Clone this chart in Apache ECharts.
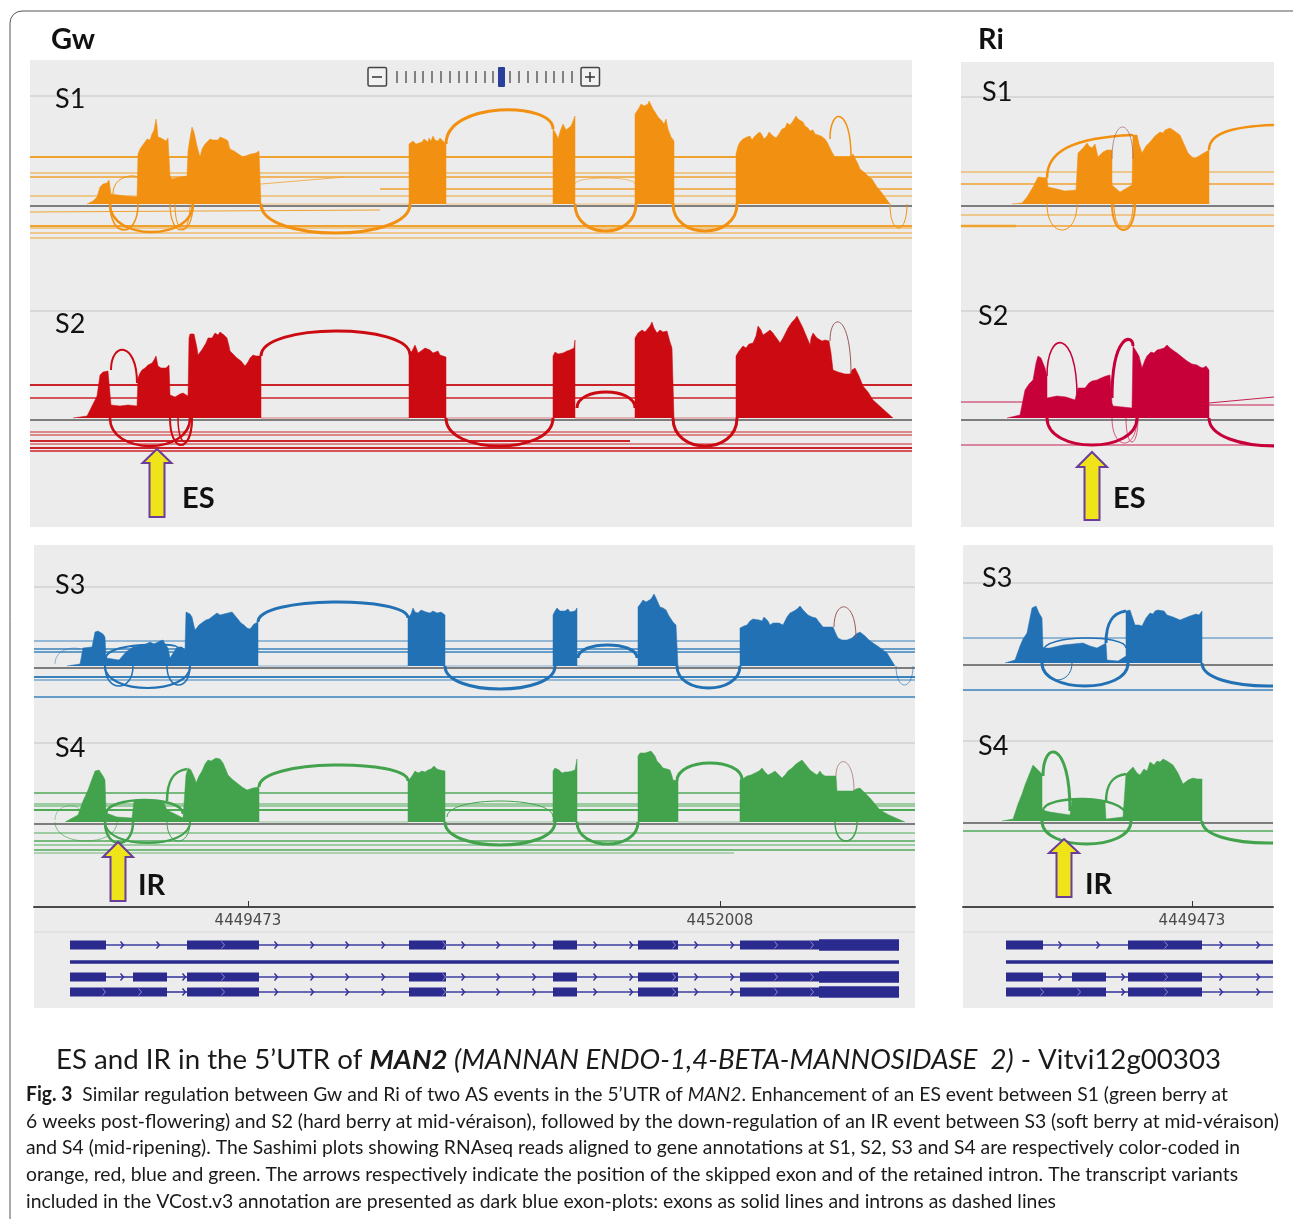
<!DOCTYPE html>
<html><head><meta charset="utf-8">
<style>html,body{margin:0;padding:0;background:#fff}#c{width:1293px;height:1219px}</style>
<script src="https://cdn.jsdelivr.net/npm/echarts@6/dist/echarts.min.js"></script>
</head><body><div id="c"></div>
<script>
// ---------- values: [locus position, read depth] ----------
const gwS1Cov=[[57,0],[63,3],[67,7],[70,17],[73,20],[77,21],[79,24],[80,23],[81,10],[95,8],[107,7],[108,50],[110,55],[112,58],[115,62],[117,65],[120,64],[122,70],[124,74],[126,85],[127,78],[128,67],[131,66],[133,64],[136,63],[138,66],[139,67],[140,28],[142,25],[150,27],[157,28],[158,53],[160,66],[162,77],[164,72],[165,70],[167,58],[170,47],[172,55],[173,57],[175,60],[177,62],[180,65],[183,64],[185,66],[188,64],[190,67],[192,68],[195,65],[198,63],[199,58],[200,55],[204,53],[206,52],[210,49],[213,47],[218,49],[221,50],[223,52],[226,51],[229,53],[231,53],[231,0],
[379,0],[379,60],[381,62],[383,63],[386,60],[388,61],[392,62],[394,65],[396,64],[398,62],[399,66],[401,63],[403,68],[405,64],[406,66],[408,63],[410,66],[413,63],[416,60],[416,0],
[523,0],[523,75],[525,72],[527,68],[528,65],[530,72],[531,75],[533,80],[534,78],[536,74],[538,75],[541,78],[543,76],[545,88],[545,0],
[605,0],[605,90],[607,93],[609,96],[611,100],[612,102],[614,98],[616,97],[618,100],[619,103],[621,99],[623,95],[625,92],[628,87],[632,83],[634,80],[636,85],[638,75],[641,67],[644,63],[644,0],
[706,0],[706,50],[708,58],[710,62],[713,65],[715,63],[717,67],[720,68],[722,64],[724,67],[727,70],[730,72],[732,69],[734,65],[737,68],[739,72],[741,71],[743,68],[746,66],[749,70],[752,75],[755,76],[757,81],[760,79],[763,83],[766,88],[768,85],[770,86],[773,82],[775,78],[778,76],[780,73],[783,74],[785,70],[787,72],[791,68],[795,65],[797,62],[800,56],[803,50],[805,47],[820,47],[823,50],[825,48],[828,40],[830,35],[835,31],[839,27],[842,25],[845,20],[847,17],[852,11],[860,0]];
const gwS2Cov=[[43,0],[57,2],[62,12],[67,22],[70,43],[73,46],[75,47],[78,47],[80,48],[81,13],[90,12],[98,13],[107,12],[108,40],[110,45],[112,48],[115,50],[118,53],[122,55],[124,58],[126,62],[127,57],[128,52],[131,50],[133,48],[136,50],[139,53],[140,23],[145,21],[150,24],[153,25],[158,22],[159,80],[160,84],[162,86],[164,84],[165,82],[167,70],[168,63],[171,67],[173,70],[176,75],[178,80],[180,82],[182,80],[185,85],[187,84],[188,83],[190,86],[192,86],[194,83],[197,80],[199,72],[200,67],[204,63],[207,60],[211,57],[215,52],[218,56],[220,60],[223,63],[226,62],[231,62],[231,0],
[379,0],[379,63],[382,67],[385,73],[387,68],[388,65],[391,67],[393,68],[395,70],[397,72],[400,68],[403,65],[405,67],[408,67],[410,63],[412,62],[416,61],[416,0],
[523,0],[523,62],[525,66],[526,68],[528,64],[530,63],[533,65],[537,67],[540,68],[542,66],[544,70],[545,78],[545,0],
[605,0],[605,80],[608,85],[612,88],[615,86],[617,87],[620,92],[622,96],[624,90],[627,85],[630,88],[633,86],[637,87],[640,76],[642,70],[644,68],[644,0],
[706,0],[706,62],[709,67],[713,72],[716,70],[719,74],[723,75],[726,82],[728,92],[731,88],[733,83],[736,85],[738,84],[740,88],[743,85],[745,82],[748,78],[750,75],[753,80],[755,84],[758,90],[762,96],[765,99],[767,102],[770,96],[773,90],[775,85],[778,78],[780,73],[781,80],[783,85],[787,80],[792,77],[795,78],[799,77],[801,65],[803,48],[808,46],[815,44],[820,44],[822,48],[825,50],[829,42],[833,32],[838,26],[843,18],[853,9],[863,0]];
const gwS3Cov=[[33,0],[46,2],[49,18],[58,19],[61,34],[64,35],[66,34],[69,32],[71,29],[72,8],[85,6],[92,14],[99,19],[104,20],[108,21],[112,22],[116,24],[120,22],[122,23],[126,25],[129,26],[131,22],[134,18],[136,8],[143,19],[148,19],[151,16],[152,54],[154,54],[156,52],[158,49],[160,40],[161,36],[165,41],[169,44],[172,46],[175,47],[179,50],[183,53],[186,51],[188,53],[190,52],[194,53],[198,54],[200,52],[203,48],[207,43],[210,41],[213,38],[216,37],[220,42],[224,44],[224,0],
[374,0],[374,48],[377,52],[379,58],[381,54],[384,53],[387,56],[389,57],[392,54],[396,53],[399,55],[403,53],[407,54],[411,51],[411,0],
[519,0],[519,51],[521,55],[523,58],[526,55],[528,53],[531,55],[534,57],[536,54],[538,53],[541,55],[543,58],[543,0],
[604,0],[604,59],[607,63],[609,66],[612,64],[614,65],[617,67],[620,72],[622,68],[626,59],[629,58],[632,56],[635,50],[639,44],[642,41],[644,39],[644,0],
[706,0],[706,38],[710,40],[713,41],[716,45],[719,47],[721,49],[725,46],[728,45],[730,49],[731,51],[734,45],[736,41],[739,43],[741,45],[745,43],[749,41],[753,49],[756,53],[760,55],[763,57],[766,60],[770,55],[774,51],[778,49],[782,48],[785,44],[789,39],[799,39],[802,32],[804,28],[808,26],[813,26],[818,28],[822,32],[826,34],[831,30],[835,26],[839,23],[845,19],[853,13],[861,0]];
const gwS4Cov=[[31,0],[44,7],[49,21],[54,32],[58,43],[61,51],[65,52],[66,51],[69,46],[71,42],[72,9],[83,5],[98,4],[100,21],[108,21],[116,22],[122,22],[129,21],[133,12],[149,4],[152,47],[154,54],[157,52],[159,51],[161,43],[162,39],[165,46],[168,51],[171,58],[174,62],[177,61],[179,63],[182,64],[184,66],[186,63],[189,59],[192,52],[194,47],[198,43],[203,39],[208,35],[213,32],[219,34],[225,35],[225,0],
[374,0],[374,41],[378,46],[381,51],[384,49],[388,51],[391,50],[394,52],[397,53],[400,56],[403,53],[406,52],[411,51],[411,0],
[519,0],[519,51],[521,54],[523,56],[525,52],[528,49],[531,50],[534,50],[538,51],[541,52],[543,63],[543,0],
[604,0],[604,66],[606,69],[608,71],[611,69],[614,70],[617,71],[619,73],[621,66],[623,61],[626,58],[629,54],[633,53],[636,52],[638,46],[639,42],[644,41],[644,0],
[706,0],[706,42],[710,44],[713,46],[717,47],[721,49],[725,51],[728,54],[731,50],[734,47],[738,49],[741,51],[745,47],[748,44],[751,47],[754,51],[758,54],[762,58],[765,60],[768,62],[772,57],[776,52],[780,49],[783,47],[786,51],[788,48],[791,46],[802,46],[803,31],[819,31],[822,33],[826,34],[831,29],[836,24],[841,18],[846,12],[855,7],[871,0]];
const riS1Cov=[[51,0],[61,1],[66,7],[72,17],[77,27],[86,26],[87,17],[96,15],[104,13],[115,14],[117,51],[122,56],[126,61],[128,58],[131,56],[134,60],[136,62],[137,47],[142,52],[146,54],[151,54],[151,19],[159,12],[171,19],[172,69],[176,69],[178,60],[181,51],[185,58],[189,62],[194,68],[199,72],[202,71],[204,74],[206,76],[209,76],[212,74],[214,73],[219,69],[223,60],[227,51],[231,47],[234,46],[238,48],[241,50],[248,54],[248,0]];
const riS2Cov=[[46,0],[59,3],[64,28],[68,34],[72,38],[75,55],[77,62],[80,60],[82,58],[84,50],[86,42],[86,20],[96,22],[105,21],[114,18],[117,30],[124,30],[128,35],[131,37],[136,38],[140,40],[145,42],[149,43],[151,15],[152,12],[171,10],[172,72],[174,73],[178,62],[181,50],[184,58],[186,62],[190,66],[193,65],[196,68],[200,69],[203,70],[206,73],[209,70],[213,67],[216,65],[221,61],[226,57],[231,54],[236,53],[239,51],[242,50],[245,52],[248,48],[248,0]];
const riS3Cov=[[42,0],[52,3],[57,17],[60,24],[64,30],[67,45],[69,55],[71,56],[73,57],[76,50],[79,45],[80,15],[87,15],[100,18],[110,19],[120,20],[127,17],[134,15],[143,20],[144,3],[155,2],[163,7],[163,52],[167,53],[170,44],[172,38],[176,38],[179,37],[183,45],[187,50],[190,49],[192,52],[195,53],[197,55],[201,52],[204,48],[210,46],[217,43],[222,45],[227,47],[233,49],[236,48],[239,52],[239,0]];
const riS4Cov=[[39,0],[50,2],[55,17],[59,27],[62,36],[66,46],[70,56],[73,53],[75,55],[79,47],[79,11],[87,9],[107,6],[109,21],[118,21],[127,22],[135,21],[142,19],[143,2],[160,4],[163,47],[166,50],[170,54],[174,48],[177,46],[181,52],[184,50],[187,59],[191,56],[194,60],[197,59],[200,62],[204,60],[207,58],[210,56],[215,48],[220,37],[225,41],[230,43],[234,42],[239,42],[239,0]];

// junction arcs: [from, depth at from, to, depth at to, apex, junction reads]
const gwS1Arcs=[[416,60,523,75,94,3],[800,65,821,47,87,1.5],[83,10,108,26,27,1],[545,20,605,20,26,.7],[80,0,163,0,-28,2.5],[80,0,108,0,-26,1.5],[140,0,163,0,-26,1.2],[145,0,160,0,-25,1],[231,0,380,0,-29,3],[545,0,606,0,-27,3],[643,0,707,0,-27,3],[860,0,877,0,-24,1]];
const gwS2Arcs=[[231,62,380,63,87,3],[547,10,605,10,26,3],[81,48,107,35,68,2],[800,77,821,44,95,1],[80,0,160,0,-28,2.5],[140,0,162,0,-27,2],[148,0,162,0,-24,1.5],[416,0,523,0,-28,3],[643,0,707,0,-28,3]];
const gwS3Arcs=[[224,44,374,48,64,3],[544,8,603,8,21,3],[800,39,822,28,59,1],[21,2,46,16,17,.6],[72,8,143,19,21,2],[71,0,156,0,-22,2],[71,0,99,0,-20,1.5],[133,0,156,0,-19,1.5],[411,0,521,0,-23,3],[643,0,706,0,-22,3],[862,0,879,0,-19,.8]];
const gwS4Arcs=[[225,35,374,41,57,3],[643,41,708,42,59,3],[133,21,153,53,53,2.5],[72,8,149,8,22,2.5],[21,2,46,10,16,.6],[21,0,83,0,-19,.8],[413,5,519,5,21,1],[802,46,820,31,60,.8],[411,0,521,0,-23,3],[543,0,604,0,-22,3],[801,0,823,0,-19,1.5],[71,0,99,0,-21,2.5],[71,0,156,0,-21,2],[133,0,156,0,-19,1]];
const riS1Arcs=[[86,26,172,69,69,2.5],[248,54,313,79,79,2.5],[151,45,172,45,77,.8],[86,0,116,0,-26,1],[151,0,174,0,-26,2],[153,0,172,0,-24,1]];
const riS2Arcs=[[86,42,116,22,75,1.5],[151,20,172,72,75,3],[248,0,380,0,-28,3],[86,0,176,0,-27,3],[151,0,176,0,-25,.8],[165,0,177,0,-24,.8]];
const riS3Arcs=[[143,20,163,52,52,3],[80,12,163,15,25,1.5],[79,0,165,0,-23,3],[79,0,109,0,-17,1],[239,0,370,0,-23,3]];
const riS4Arcs=[[80,45,107,10,68,3],[80,10,163,5,22,2.5],[143,19,163,47,47,2.5],[79,0,168,0,-23,3],[239,0,370,0,-22,3]];

// flat coverage links: [from, to, depth at from, depth at to, reads]
const gwS1Links=[[0,882,47,47,1.8],[0,882,31,31,1.2],[0,882,27,27,1.3],[350,882,15,15,1.5],[0,882,8,8,1.2],[231,315,20,27,.8],[0,350,-8,-6,1.2],[0,882,-22,-22,1.8],[0,882,-24,-24,1.2],[0,882,-29,-29,1.2],[0,882,-34,-34,1.2]];
const gwS2Links=[[0,882,33,33,2.2],[0,882,20,20,1.4],[0,882,-14,-14,1.2],[0,882,-17,-17,1.2],[0,600,-23,-23,1.8],[0,882,-26,-26,1],[0,882,-30,-30,1.8],[0,882,-33,-33,1.4]];
const gwS3Links=[[0,882,25,25,1.2],[0,882,17,17,1.6],[0,882,14,14,1.4],[0,882,-11,-11,1.8],[0,882,-14,-14,1.2],[0,882,-31,-31,1.3]];
const gwS4Links=[[0,882,29,29,1.5],[0,882,18,18,1.2],[0,882,16,16,1.2],[0,882,12,12,1.8],[0,882,-11,-11,1],[0,882,-19,-19,1.4],[0,882,-23,-23,1.2],[0,882,-28,-28,1.5],[0,700,-31,-31,.8]];
const riS1Links=[[0,313,32,32,1.2],[0,313,20,20,1.4],[0,313,-11,-11,1.2],[0,313,-22,-22,1.4],[0,55,-22,-22,2.5]];
const riS2Links=[[0,64,16,16,1.2],[248,313,13,13,1.2],[248,313,15,21,1.2],[0,313,-27,-27,1.2]];
const riS3Links=[[0,310,25,25,1.2],[0,310,-27,-27,1.4]];
const riS4Links=[[0,310,-10,-10,1.4]];

// transcript models
const gwIsoforms=[[[36,72],[153,225],[375,412],[519,543],[604,644],[706,865]],[[36,865]],[[36,72],[99,133],[153,225],[375,412],[519,543],[604,644],[706,865]],[[36,133],[153,225],[375,412],[519,543],[604,644],[706,865]]];
const gwIntronMarks=[[0,88],[0,124],[2,88],[2,150],[3,150]].concat([0,2,3].flatMap(r=>[242,278,313,349,429,464,500,561,597,662,698].map(m=>[r,m])));
const gwExonMarks=[[3,70],[3,106]].concat([0,2,3].flatMap(r=>[189,410,640,742,778].map(m=>[r,m])));
const gwUtrSpans=[[0,785,865],[2,785,865],[3,785,865]];
const riIsoforms=[[[43,80],[165,239]],[[43,310]],[[43,80],[109,143],[165,239]],[[43,143],[165,239]]];
const riIntronMarks=[[0,97],[0,135],[2,97],[2,160],[3,160]].concat([0,2,3].flatMap(r=>[258,295].map(m=>[r,m])));
const riExonMarks=[[3,79],[3,116],[0,203],[2,203],[3,203]];
const riUtrSpans=[];
const isoformRows=[38,55,70,85];
const axisPositions={gw:[214,686],ri:[229]};
const axisLabels={gw:['4449473','4452008'],ri:['4449473']};

// ---------- layout ----------
const tracks=[
 {cov:gwS1Cov,arcs:gwS1Arcs,links:gwS1Links,c:'#f29111',lc:'#f0a22e',r:[30,60,882,240],base:204,top:108},
 {cov:gwS2Cov,arcs:gwS2Arcs,links:gwS2Links,c:'#cc0a11',lc:'#cc2229',r:[30,300,882,227],base:418,top:107},
 {cov:gwS3Cov,arcs:gwS3Arcs,links:gwS3Links,c:'#2271b5',lc:'#3a82bc',r:[34,545,881,160],base:666,top:79},
 {cov:gwS4Cov,arcs:gwS4Arcs,links:gwS4Links,c:'#42a34c',lc:'#4faa58',r:[34,705,881,202],base:822,top:79},
 {cov:riS1Cov,arcs:riS1Arcs,links:riS1Links,c:'#f29111',lc:'#f0a22e',r:[961,62,313,238],base:204,top:107},
 {cov:riS2Cov,arcs:riS2Arcs,links:riS2Links,c:'#c8003a',lc:'#c4204f',r:[961,300,313,227],base:418,top:107},
 {cov:riS3Cov,arcs:riS3Arcs,links:riS3Links,c:'#2271b5',lc:'#3a82bc',r:[963,545,310,155],base:663,top:80},
 {cov:riS4Cov,arcs:riS4Arcs,links:riS4Links,c:'#42a34c',lc:'#4faa58',r:[963,700,310,207],base:821,top:80}
];
const grid=[],xAxis=[],yAxis=[],series=[];
const GREY='#ececec';
tracks.forEach((t,i)=>{
 const [x,y,w,h]=t.r;
 grid.push({left:x,top:y,width:w,height:h,show:true,backgroundColor:GREY,borderWidth:0});
 xAxis.push({type:'value',gridIndex:i,min:0,max:w,show:false});
 yAxis.push({type:'value',gridIndex:i,min:t.base-y-h,max:t.base-y,show:false});
 series.push({type:'custom',xAxisIndex:i,yAxisIndex:i,clip:true,silent:true,z:1,data:[[0,w,t.top],[0,w,-2]],
  renderItem:(p,api)=>{const a=api.coord([api.value(0),api.value(2)]),b=api.coord([api.value(1),api.value(2)]);
   const isBase=api.value(2)<0;
   return {type:'line',shape:{x1:a[0],y1:a[1],x2:b[0],y2:b[1]},style:{stroke:isBase?'#7d7d7d':'#d2d2d2',lineWidth:isBase?1.8:1.5}};}});
 series.push({type:'custom',xAxisIndex:i,yAxisIndex:i,clip:true,silent:true,z:1,data:t.links,
  renderItem:(p,api)=>{const a=api.coord([api.value(0),api.value(2)]),b=api.coord([api.value(1),api.value(3)]);
   return {type:'line',shape:{x1:a[0],y1:a[1],x2:b[0],y2:b[1]},style:{stroke:t.lc,lineWidth:api.value(4)}};}});
 series.push({type:'line',xAxisIndex:i,yAxisIndex:i,data:t.cov,showSymbol:false,silent:true,z:2,
  lineStyle:{width:.5,color:t.c},areaStyle:{color:t.c,opacity:1},itemStyle:{color:t.c}});
 series.push({type:'custom',xAxisIndex:i,yAxisIndex:i,clip:true,silent:true,z:3,data:t.arcs,
  renderItem:(p,api)=>{
   const x1=api.value(0),y1=api.value(1),x2=api.value(2),y2=api.value(3),ap=api.value(4),rd=api.value(5);
   const quarter=y2>y1&&ap<=y2;   // a junction climbing onto the next exon's shoulder
   const cp=(ap-(y1+y2)/8)/.75;
   const a=api.coord([x1,y1]),b=api.coord([x2,y2]);
   const c1=quarter?api.coord([x1,y1+(y2-y1)*.62]):api.coord([x1,cp]);
   const c2=quarter?api.coord([x1+(x2-x1)*.3,y2-(y2-y1)*.06]):api.coord([x2,cp]);
   return {type:'bezierCurve',shape:{x1:a[0],y1:a[1],x2:b[0],y2:b[1],cpx1:c1[0],cpy1:c1[1],cpx2:c2[0],cpy2:c2[1]},
    style:{fill:'none',stroke:rd<1.2&&ap>50?'#9a5a5a':t.c,lineWidth:rd,opacity:rd<1?.8:1}};}});
});
// transcript tracks
function geneGrid(idx,r,isoforms,intronMarks,exonMarks,utr,pos,labels){
 const [x,y,w,h]=r;
 grid.push({left:x,top:y,width:w,height:h,show:true,backgroundColor:GREY,borderWidth:0});
 xAxis.push({type:'value',gridIndex:idx,min:0,max:w,position:'top',
  axisLine:{show:true,onZero:false,lineStyle:{color:'#4a4a4a',width:2}},splitLine:{show:false},
  axisTick:{show:true,customValues:pos,length:6,lineStyle:{color:'#333',width:1}},
  axisLabel:{show:true,inside:true,customValues:pos,margin:7,fontFamily:'DejaVu Sans',fontSize:15,color:'#4a4a4a',
   formatter:v=>labels[pos.indexOf(v)]||''}});
 yAxis.push({type:'value',gridIndex:idx,inverse:true,min:0,max:h,show:false});
 const exons=[],introns=[];
 isoforms.forEach((ex,ri)=>{ex.forEach(e=>exons.push([e[0],e[1],isoformRows[ri],ex.length===1?3.6:9]));
  for(let k=0;k<ex.length-1;k++)introns.push([ex[k][1],ex[k+1][0],isoformRows[ri]]);
  const last=ex[ex.length-1];if(ex.length>1&&last[1]<w&&idx===9)introns.push([last[1],w,isoformRows[ri]]);});
 utr.forEach(u=>exons.push([u[1],u[2],isoformRows[u[0]],11.5]));
 const hline=(color,lw)=>(p,api)=>{const a=api.coord([api.value(0),api.value(2)]),b=api.coord([api.value(1),api.value(2)]);
   return {type:'line',shape:{x1:a[0],y1:a[1],x2:b[0],y2:b[1]},style:{stroke:color,lineWidth:lw}};};
 const chevron=(color,lw)=>(p,api)=>{const a=api.coord([api.value(1),isoformRows[api.value(0)]]);
   return {type:'polyline',shape:{points:[[a[0]-1.5,a[1]-3.5],[a[0]+1.5,a[1]],[a[0]-1.5,a[1]+3.5]]},style:{fill:'none',stroke:color,lineWidth:lw}};};
 series.push({type:'custom',xAxisIndex:idx,yAxisIndex:idx,clip:true,silent:true,z:1,data:[[0,w,25]],renderItem:hline('#d8d8d8',1)});
 series.push({type:'custom',xAxisIndex:idx,yAxisIndex:idx,clip:true,silent:true,z:2,data:introns,renderItem:hline('#3c3ca0',1.6)});
 series.push({type:'custom',xAxisIndex:idx,yAxisIndex:idx,clip:true,silent:true,z:3,data:intronMarks,renderItem:chevron('#2f2f98',1.4)});
 series.push({type:'custom',xAxisIndex:idx,yAxisIndex:idx,clip:true,silent:true,z:4,data:exons,
  renderItem:(p,api)=>{const a=api.coord([api.value(0),api.value(2)]),b=api.coord([api.value(1),api.value(2)]);const th=api.value(3);
   return {type:'rect',shape:{x:a[0],y:a[1]-th/2,width:b[0]-a[0],height:th},style:{fill:'#2a2a8f'}};}});
 series.push({type:'custom',xAxisIndex:idx,yAxisIndex:idx,clip:true,silent:true,z:5,data:exonMarks,renderItem:chevron('#8f8fcc',1)});
}
geneGrid(8,[34,907,881,101],gwIsoforms,gwIntronMarks,gwExonMarks,gwUtrSpans,axisPositions.gw,axisLabels.gw);
geneGrid(9,[963,907,310,101],riIsoforms,riIntronMarks,riExonMarks,riUtrSpans,axisPositions.ri,axisLabels.ri);

// ---------- annotations ----------
const LF='Lato, "Open Sans", sans-serif';
const cv=document.createElement('canvas').getContext('2d');
function measure(segs){return segs.reduce((s,g)=>{cv.font=(g.st?g.st+' ':'')+(g.w?g.w+' ':'')+g.sz+'px Lato';return s+cv.measureText(g.t).width;},0);}
function fit(x,y,xEnd,segs){
 const sc=(xEnd-x)/measure(segs);
 const rich={};segs.forEach((g,i)=>{rich['s'+i]={fontFamily:'Lato',fontSize:g.sz,fontWeight:g.w||'normal',fontStyle:g.st||'normal',color:'#1a1a1a'};});
 return {type:'text',x:x,y:y,scaleX:sc,originX:0,z:50,style:{text:segs.map((g,i)=>'{s'+i+'|'+g.t+'}').join(''),rich:rich,verticalAlign:'middle',align:'left',fill:'#1a1a1a'}};
}
function label(t,x,y,sz,w){return {type:'text',x:x,y:y,z:50,style:{text:t,font:(w||'normal')+' '+sz+'px '+LF,fill:'#111',verticalAlign:'middle',align:'left'}};}
function arrow(tx,ty,hw,sw,hy,by){return {type:'polygon',z:50,shape:{points:[[tx,ty],[tx+hw,hy],[tx+sw,hy],[tx+sw,by],[tx-sw,by],[tx-sw,hy],[tx-hw,hy]]},style:{fill:'#efe31a',stroke:'#6a3d9a',lineWidth:2}};}
const gfx=[
 {type:'rect',z:0,shape:{x:10,y:11,width:1400,height:1400,r:12},style:{fill:'none',stroke:'#555',lineWidth:1}},
 label('Gw',51,40,29,'bold'),label('Ri',978,40,29,'bold'),
 label('S1',55,99,27),label('S2',55,324,27),label('S3',55,585,27),label('S4',55,748,27),
 label('S1',982,92,27),label('S2',978,316,27),label('S3',982,578,27),label('S4',978,746,27),
 label('ES',182,499,29,'bold'),label('ES',1113,499,29,'bold'),label('IR',138,886,29,'bold'),label('IR',1085,885,29,'bold'),
 arrow(157,449,14.5,7.5,463,517),arrow(1092,452,15,7.5,467,520),arrow(118,842,15,7.5,857,901),arrow(1064,839,15,7.5,853,897),
 {type:'rect',z:50,shape:{x:368,y:67.5,width:18.5,height:18.5,r:1.5},style:{fill:'#f2f2f2',stroke:'#444',lineWidth:1.5}},
 {type:'rect',z:50,shape:{x:581,y:67.5,width:18.5,height:18.5,r:1.5},style:{fill:'#f2f2f2',stroke:'#444',lineWidth:1.5}},
 {type:'line',z:51,shape:{x1:372,y1:77,x2:382,y2:77},style:{stroke:'#333',lineWidth:1.5}},
 {type:'line',z:51,shape:{x1:585,y1:77,x2:595,y2:77},style:{stroke:'#333',lineWidth:1.5}},
 {type:'line',z:51,shape:{x1:590,y1:72,x2:590,y2:82},style:{stroke:'#333',lineWidth:1.5}},
 {type:'rect',z:51,shape:{x:498,y:67,width:7,height:20,r:1},style:{fill:'#2a3f9c'}},
 fit(56,1060,1221,[{t:"ES and IR in the 5’UTR of ",sz:27},{t:'MAN2',sz:27,w:'bold',st:'italic'},{t:' (MANNAN ENDO-1,4-BETA-MANNOSIDASE  2)',sz:27,st:'italic'},{t:' - Vitvi12g00303',sz:27}]),
 fit(26,1095,1228,[{t:'Fig. 3',sz:20,w:'bold'},{t:"  Similar regulation between Gw and Ri of two AS events in the 5’UTR of ",sz:20},{t:'MAN2',sz:20,st:'italic'},{t:'. Enhancement of an ES event between S1 (green berry at',sz:20}]),
 fit(26,1122,1279,[{t:'6 weeks post-flowering) and S2 (hard berry at mid-véraison), followed by the down-regulation of an IR event between S3 (soft berry at mid-véraison)',sz:20}]),
 fit(26,1148,1240,[{t:'and S4 (mid-ripening). The Sashimi plots showing RNAseq reads aligned to gene annotations at S1, S2, S3 and S4 are respectively color-coded in',sz:20}]),
 fit(26,1175,1238,[{t:'orange, red, blue and green. The arrows respectively indicate the position of the skipped exon and of the retained intron. The transcript variants',sz:20}]),
 fit(26,1202,1056,[{t:'included in the VCost.v3 annotation are presented as dark blue exon-plots: exons as solid lines and introns as dashed lines',sz:20}])
];
[397,406,415,423,432,441,450,459,467,476,485,493,510,519,528,537,546,554,563,572].forEach(x=>gfx.push({type:'line',z:50,shape:{x1:x,y1:71,x2:x,y2:83},style:{stroke:'#555',lineWidth:1.4}}));

const chart=echarts.init(document.getElementById('c'),null,{renderer:'canvas'});
chart.setOption({animation:false,backgroundColor:'#fff',grid,xAxis,yAxis,series,graphic:{elements:gfx},tooltip:{show:false},legend:{show:false}});
</script></body></html>
